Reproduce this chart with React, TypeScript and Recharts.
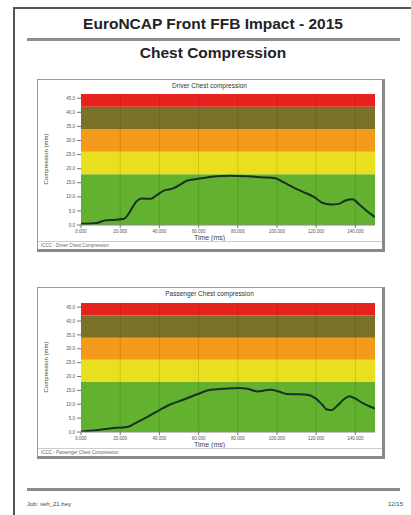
import React from "react";
import {
  ComposedChart,
  Line,
  XAxis,
  YAxis,
  ReferenceArea,
  ReferenceLine,
} from "recharts";

const timeTicks = [0, 20, 40, 60, 80, 100, 120, 140];
const compTicks = [0, 5, 10, 15, 20, 25, 30, 35, 40, 45];

const bandLimits = [0, 18, 26, 34, 42, 46.5];
const bandColors = ["#62b22f", "#e8e01e", "#f39a1a", "#7b722a", "#e8221f"];

const driverTime = [0, 8, 12, 18, 22, 24, 28.5, 31, 35.5, 38, 42, 47, 51, 54, 59, 64, 69, 76, 85, 93, 99, 103.5, 108.5, 113.5, 119, 123, 127.5, 131.5, 135, 138.5, 142, 146, 150];
const driverComp = [0.4, 0.7, 1.6, 1.9, 2.2, 3.7, 8.5, 9.4, 9.3, 10.3, 12.1, 13.0, 14.5, 15.7, 16.3, 16.9, 17.3, 17.5, 17.3, 16.9, 16.6, 15.1, 13.3, 11.7, 9.9, 7.9, 7.3, 7.5, 8.7, 9.1, 7.3, 4.9, 2.8];

const passTime = [0, 8, 15, 23.5, 27, 33.5, 40.5, 45.5, 52.5, 59, 66, 73, 80, 85, 90, 93, 96.5, 101, 105, 110, 115.5, 119.5, 123, 125.5, 128, 130.5, 134, 137, 140, 144.5, 150];
const passComp = [0.2, 0.6, 1.3, 1.8, 2.9, 5.3, 8.1, 9.9, 11.7, 13.5, 15.2, 15.6, 15.9, 15.6, 14.6, 14.9, 15.2, 14.6, 13.7, 13.6, 13.4, 12.2, 9.9, 8.1, 7.9, 9.3, 11.7, 12.9, 12.0, 10.1, 8.4];

const build = (t: number[], c: number[]) => t.map((x, i) => ({ t: x, c: c[i] }));

const FONT = "'Liberation Sans', Arial, sans-serif";

type PanelProps = {
  top: number;
  height: number;
  title: string;
  caption: string;
  data: { t: number; c: number }[];
  plotTop: number;
  plotBottom: number;
};

function Panel({ top, height, title, caption, data, plotTop, plotBottom }: PanelProps) {
  const left = 37;
  const width = 348;
  const xAxisH = 12;
  return (
    <div
      style={{
        position: "absolute",
        left,
        top,
        width,
        height,
        boxSizing: "border-box",
        border: "1px solid #9a9a9a",
        borderRight: "3px solid #8a8a8a",
        borderBottom: "3px solid #8a8a8a",
        background: "#fff",
      }}
    >
      <div
        style={{
          position: "absolute",
          left: 0,
          width: 380 - left,
          top: 2,
          textAlign: "center",
          fontSize: 6.5,
          color: "#333",
          fontFamily: FONT,
        }}
      >
        {title}
      </div>
      <div
        style={{
          position: "absolute",
          left: 2,
          top: (plotTop + plotBottom) / 2 - 1,
          width: 0,
          height: 0,
        }}
      >
        <div
          style={{
            position: "absolute",
            transform: "translate(-50%, -50%) rotate(-90deg)",
            left: 6,
            top: 0,
            whiteSpace: "nowrap",
            fontSize: 6,
            color: "#444",
            fontFamily: FONT,
          }}
        >
          Compression (mm)
        </div>
      </div>
      <div style={{ position: "absolute", left: 0, top: 0 }}>
        <ComposedChart
          width={width - 4}
          height={height - 4}
          data={data}
          margin={{ top: plotTop, right: 7, left: 10, bottom: height - 4 - plotBottom - xAxisH }}
        >
          <XAxis
            dataKey="t"
            type="number"
            domain={[0, 150]}
            ticks={timeTicks}
            tickFormatter={(v: number) => v.toFixed(3)}
            tick={{ fontSize: 4.5, fill: "#555", fontFamily: FONT }}
            tickSize={3}
            tickLine={{ stroke: "#777" }}
            axisLine={{ stroke: "#888" }}
            height={xAxisH}
            interval={0}
            allowDataOverflow
          />
          <YAxis
            type="number"
            domain={[0, 46.5]}
            ticks={compTicks}
            tickFormatter={(v: number) => v.toFixed(1)}
            tick={{ fontSize: 4.5, fill: "#555", fontFamily: FONT }}
            tickSize={4}
            tickLine={{ stroke: "#777" }}
            axisLine={false}
            width={33}
            interval={0}
            allowDataOverflow
          />
          {bandColors.map((col, i) => (
            <ReferenceArea
              key={"b" + i}
              y1={bandLimits[i]}
              y2={bandLimits[i + 1]}
              fill={col}
              fillOpacity={1}
              stroke="none"
              ifOverflow="hidden"
            />
          ))}
          {timeTicks.slice(1).map((t) => (
            <ReferenceLine key={"g" + t} x={t} stroke="#000" strokeOpacity={0.12} strokeWidth={1} />
          ))}
          <Line
            dataKey="c"
            type="monotone"
            stroke="#1a3024"
            strokeWidth={2}
            dot={false}
            isAnimationActive={false}
          />
        </ComposedChart>
      </div>
      <div
        style={{
          position: "absolute",
          left: 0,
          width: 380 - left,
          top: plotBottom + 9,
          textAlign: "center",
          fontSize: 7,
          color: "#444",
          fontFamily: FONT,
        }}
      >
        Time (ms)
      </div>
      <div
        style={{
          position: "absolute",
          left: 0,
          right: 0,
          bottom: 0,
          height: 7,
          borderTop: "1px solid #ccc",
          fontSize: 4.5,
          color: "#666",
          fontFamily: FONT,
          paddingLeft: 3,
          lineHeight: "7px",
        }}
      >
        {caption}
      </div>
    </div>
  );
}

export default function App() {
  const driverData = build(driverTime, driverComp);
  const passData = build(passTime, passComp);
  return (
    <div
      style={{
        position: "absolute",
        left: 0,
        top: 0,
        width: 411,
        height: 515,
        background: "#fff",
        overflow: "hidden",
        fontFamily: FONT,
      }}
    >
      <div style={{ position: "absolute", left: 13, top: 8, width: 2, height: 520, background: "#555" }} />
      <div style={{ position: "absolute", left: 13, top: 7, width: 400, height: 2, background: "#555" }} />
      <div
        style={{
          position: "absolute",
          left: 14,
          width: 398,
          top: 15,
          textAlign: "center",
          fontSize: 15.5,
          fontWeight: "bold",
          color: "#222",
        }}
      >
        EuroNCAP Front FFB Impact - 2015
      </div>
      <div style={{ position: "absolute", left: 27, top: 38, width: 373, height: 3, background: "#8c8c8c" }} />
      <div
        style={{
          position: "absolute",
          left: 14,
          width: 398,
          top: 44,
          textAlign: "center",
          fontSize: 15.5,
          fontWeight: "bold",
          color: "#222",
        }}
      >
        Chest Compression
      </div>
      <Panel
        top={79}
        height={173}
        title="Driver Chest compression"
        caption="ICCC - Driver Chest Compression"
        data={driverData}
        plotTop={14}
        plotBottom={145}
      />
      <Panel
        top={287}
        height={172}
        title="Passenger Chest compression"
        caption="ICCC - Passenger Chest Compression"
        data={passData}
        plotTop={15}
        plotBottom={144}
      />
      <div style={{ position: "absolute", left: 27, top: 488, width: 373, height: 3, background: "#8c8c8c" }} />
      <div style={{ position: "absolute", left: 27, top: 501, fontSize: 6, color: "#444" }}>Job: veh_21.hey</div>
      <div style={{ position: "absolute", right: 8, top: 501, fontSize: 6, color: "#444" }}>12/15</div>
    </div>
  );
}
